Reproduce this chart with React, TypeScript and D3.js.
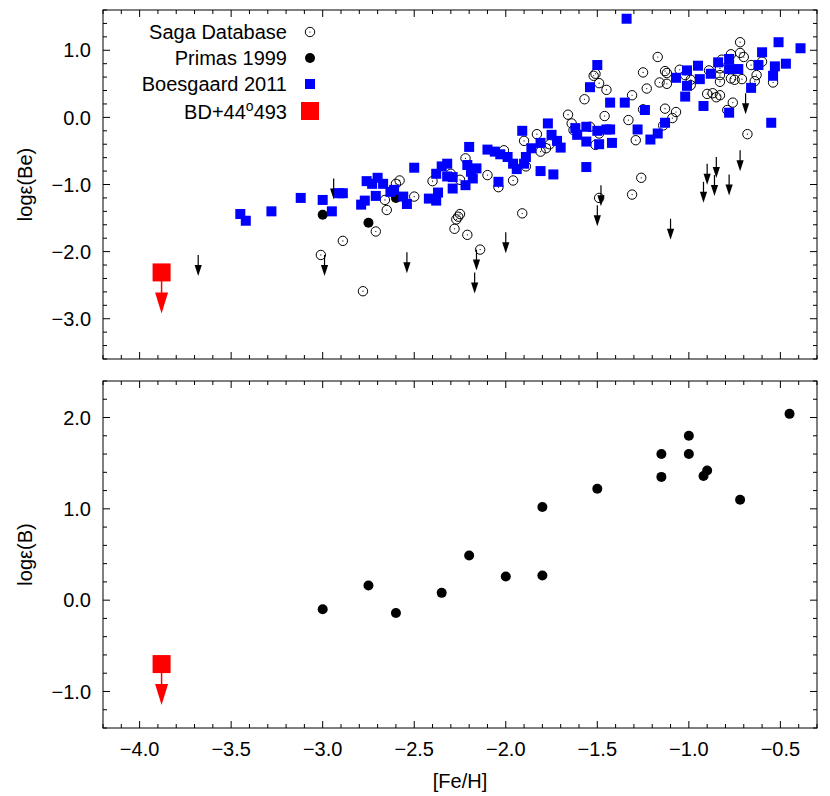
import React from 'react';
import * as d3 from 'd3';

// [Fe/H], logε(Be) — SAGA database (open circles)
const sagaBe: [number, number][] = [
  [-2.58, -0.94], [-2.60, -0.99], [-2.66, -1.23], [-2.65, -1.38], [-2.50, -1.18], [-2.40, -0.95],
  [-2.30, -0.84], [-2.25, -0.93], [-2.22, -0.61], [-2.10, -0.86], [-2.04, -1.04], [-2.89, -1.84],
  [-2.71, -1.70], [-3.01, -2.05], [-2.78, -2.59], [-2.25, -1.44], [-2.26, -1.48], [-2.27, -1.52],
  [-2.28, -1.66], [-2.21, -1.75], [-2.14, -1.97], [-1.96, -0.94], [-1.89, -0.73], [-1.90, -0.35],
  [-1.83, -0.25], [-1.81, -0.51], [-1.78, -0.46], [-1.76, -0.40], [-2.01, -0.49], [-1.66, 0.04],
  [-1.64, -0.09], [-1.63, -0.19], [-1.57, 0.27], [-1.54, -0.14], [-1.51, -0.41], [-1.46, 0.02],
  [-1.45, 0.41], [-1.33, -0.04], [-1.31, 0.33], [-1.29, -0.34], [-1.26, -0.90], [-1.31, -1.15],
  [-1.91, -1.43], [-1.49, -1.20], [-0.72, 1.12], [-1.17, 0.90], [-1.25, 0.67], [-1.52, 0.62],
  [-1.51, 0.65], [-1.49, 0.51], [-1.23, 0.43], [-1.16, 0.52], [-1.13, 0.69], [-1.12, 0.66],
  [-1.12, 0.50], [-1.05, 0.71], [-1.02, 0.63], [-0.99, 0.56], [-0.99, 0.48], [-0.89, 0.70],
  [-0.90, 0.35], [-0.87, 0.36], [-0.85, 0.30], [-0.83, 0.33], [-0.83, 0.53], [-0.83, 0.63],
  [-0.83, 0.73], [-0.82, 0.86], [-0.77, 0.94], [-0.72, 0.96], [-0.70, 0.90], [-0.77, 0.58],
  [-0.75, 0.56], [-0.71, 0.57], [-0.66, 0.78], [-0.63, 0.63], [-0.64, 0.54], [-0.60, 0.83],
  [-0.54, 0.52], [-0.76, 0.22], [-0.79, 0.11], [-0.68, -0.25], [-1.25, 0.12], [-1.13, 0.13],
  [-1.07, 0.08], [-1.09, -0.01], [-1.14, -0.12], [-1.49, -0.24],
];

// SAGA upper limits (arrows hang from the value)
const sagaBeLimits: [number, number][] = [
  [-3.68, -2.05], [-2.94, -0.91], [-2.99, -2.05], [-2.54, -2.01], [-2.16, -1.97], [-2.17, -2.31],
  [-2.00, -1.71], [-1.48, -1.01], [-1.50, -1.31], [-1.10, -1.51], [-0.92, -0.96], [-0.90, -0.69],
  [-0.86, -0.86], [-0.85, -0.59], [-0.78, -0.85], [-0.72, -0.49], [-0.69, 0.36],
];

const primasBe: [number, number][] = [[-3.00, -1.45], [-2.75, -1.57], [-2.60, -1.20]];

const boesgaardBe: [number, number][] = [
  [-3.45, -1.44], [-3.42, -1.54], [-3.28, -1.40], [-3.12, -1.20], [-3.00, -1.23], [-2.95, -1.40],
  [-2.91, -1.13], [-2.89, -1.13], [-2.79, -1.30], [-2.77, -1.24], [-2.76, -0.95], [-2.71, -1.17],
  [-2.73, -0.99], [-2.70, -0.90], [-2.67, -0.99], [-2.63, -1.11], [-2.61, -1.08], [-2.56, -1.18],
  [-2.54, -1.29], [-2.50, -0.75], [-2.42, -1.21], [-2.38, -1.24], [-2.37, -1.12], [-2.38, -0.84],
  [-2.35, -0.73], [-2.32, -0.69], [-2.32, -0.88], [-2.29, -1.06], [-2.29, -0.89], [-2.22, -1.01],
  [-2.21, -0.71], [-2.19, -0.81], [-2.18, -0.91], [-2.16, -0.76], [-2.20, -0.44], [-2.10, -0.48],
  [-2.06, -0.51], [-2.04, -0.96], [-2.03, -0.55], [-1.99, -0.59], [-1.96, -0.69], [-1.94, -0.77],
  [-1.89, -0.59], [-1.90, -0.69], [-1.86, -0.46], [-1.81, -0.38], [-1.91, -0.20], [-1.77, -0.09],
  [-1.75, -0.26], [-1.72, -0.35], [-1.70, -0.45], [-1.81, -0.80], [-1.74, -0.85], [-1.62, -0.16],
  [-1.61, -0.26], [-1.56, -0.14], [-1.56, -0.36], [-1.50, -0.20], [-1.49, -0.40], [-1.45, -0.18],
  [-1.43, -0.18], [-1.42, -0.38], [-1.56, -0.74], [-1.43, 0.22], [-1.35, 0.22], [-1.28, -0.18],
  [-1.21, -0.33], [-1.24, 0.11], [-1.34, 1.47], [-1.50, 0.78], [-1.54, 0.45], [-1.17, -0.24],
  [-1.13, -0.08], [-1.07, 0.59], [-1.01, 0.70], [-1.01, 0.47], [-1.02, 0.31], [-0.95, 0.77],
  [-0.94, 0.57], [-0.88, 0.65], [-0.92, 0.17], [-0.84, 0.82], [-0.78, 0.87], [-0.78, 0.72],
  [-0.73, 0.72], [-0.78, 0.07], [-0.66, 0.44], [-0.62, 0.78], [-0.60, 0.97], [-0.54, 0.62],
  [-0.53, 0.76], [-0.51, 1.12], [-0.47, 0.80], [-0.39, 1.03], [-0.55, -0.08],
];

// BD+44 493 upper limits
const bdBe: [number, number] = [-3.88, -2.31];
const bdB: [number, number] = [-3.88, -0.70];

// [Fe/H], logε(B) — Primas 1999
const primasB: [number, number][] = [
  [-3.00, -0.10], [-2.75, 0.16], [-2.60, -0.14], [-2.35, 0.08], [-2.20, 0.49], [-2.00, 0.26],
  [-1.80, 0.27], [-1.80, 1.02], [-1.50, 1.22], [-1.15, 1.60], [-1.15, 1.35], [-1.00, 1.80],
  [-1.00, 1.60], [-0.92, 1.36], [-0.90, 1.42], [-0.72, 1.10], [-0.45, 2.04],
];

const xTicks = [-4.0, -3.5, -3.0, -2.5, -2.0, -1.5, -1.0, -0.5];
const beTicks = [1.0, 0.0, -1.0, -2.0, -3.0];
const bTicks = [2.0, 1.0, 0.0, -1.0];

const legendItems = ['Saga Database', 'Primas 1999', 'Boesgaard 2011'];

const W = 830;
const H = 796;
const left = 103;
const right = 817;
const font = '"Liberation Sans", Arial, Helvetica, sans-serif';
const fmt = d3.format('.1f');

const x = d3.scaleLinear().domain([-4.2, -0.3]).range([left, right]);
const yBe = d3.scaleLinear().domain([-3.6, 1.6]).range([359, 10]);
const yB = d3.scaleLinear().domain([-1.4, 2.4]).range([728, 381]);

const Frame = ({ y, majors }: { y: d3.ScaleLinear<number, number>; majors: number[] }) => {
  const [y0, y1] = y.domain();
  const top = y.range()[1];
  const bottom = y.range()[0];
  const xMinor = d3.range(-4.2, -0.29, 0.1).map(v => +v.toFixed(1));
  const yMinor = d3.range(Math.ceil(y0 * 5) / 5, y1 + 0.001, 0.2).map(v => +v.toFixed(1));
  const isMajorX = (v: number) => Math.abs(v * 2 - Math.round(v * 2)) < 1e-6;
  const isMajorY = (v: number) => Math.abs(v - Math.round(v)) < 1e-6;
  return (
    <g stroke="#000" strokeWidth={1} fill="none">
      <rect x={left} y={top} width={right - left} height={bottom - top} />
      {xMinor.map(v => {
        const len = isMajorX(v) ? 7 : 4;
        const px = x(v);
        return (
          <g key={'x' + v}>
            <line x1={px} x2={px} y1={bottom} y2={bottom - len} />
            <line x1={px} x2={px} y1={top} y2={top + len} />
          </g>
        );
      })}
      {yMinor.map(v => {
        const len = isMajorY(v) ? 7 : 4;
        const py = y(v);
        return (
          <g key={'y' + v}>
            <line x1={left} x2={left + len} y1={py} y2={py} />
            <line x1={right} x2={right - len} y1={py} y2={py} />
          </g>
        );
      })}
      <g stroke="none" fill="#000" fontFamily={font} fontSize={20} textAnchor="end">
        {majors.map(v => (
          <text key={v} x={91} y={y(v)} dy="0.36em">{fmt(v)}</text>
        ))}
      </g>
    </g>
  );
};

const OpenCircle = ({ cx, cy }: { cx: number; cy: number }) => (
  <g>
    <circle cx={cx} cy={cy} r={4.7} fill="none" stroke="#000" strokeWidth={1} />
    <circle cx={cx} cy={cy} r={0.6} fill="#000" />
  </g>
);

const LimitArrow = ({ cx, cy }: { cx: number; cy: number }) => (
  <g>
    <line x1={cx} x2={cx} y1={cy} y2={cy + 12} stroke="#000" strokeWidth={1.2} />
    <path d={`M${cx - 3.6},${cy + 10}L${cx + 3.6},${cy + 10}L${cx},${cy + 21}Z`} fill="#000" />
  </g>
);

const BdMark = ({ cx, cy, size = 18 }: { cx: number; cy: number; size?: number }) => (
  <g>
    <line x1={cx} x2={cx} y1={cy} y2={cy + 22} stroke="#ff0000" strokeWidth={1.5} />
    <path d={`M${cx - 6.5},${cy + 20}L${cx + 6.5},${cy + 20}L${cx},${cy + 41}Z`} fill="#ff0000" />
    <rect x={cx - size / 2} y={cy - size / 2} width={size} height={size} fill="#ff0000" />
  </g>
);

export default function App() {
  const legendX = 310;
  const legendY = [32, 58, 84, 111];
  return (
    <svg width={W} height={H} style={{ position: 'absolute', left: 0, top: 0, background: '#fff' }}>
      <rect width={W} height={H} fill="#fff" />

      {/* top panel: Be */}
      <g>
        {sagaBe.map((d, i) => <OpenCircle key={'s' + i} cx={x(d[0])} cy={yBe(d[1])} />)}
        {sagaBeLimits.map((d, i) => <LimitArrow key={'l' + i} cx={x(d[0])} cy={yBe(d[1])} />)}
        {primasBe.map((d, i) => <circle key={'p' + i} cx={x(d[0])} cy={yBe(d[1])} r={5} fill="#000" />)}
        {boesgaardBe.map((d, i) => (
          <rect key={'b' + i} x={x(d[0]) - 5} y={yBe(d[1]) - 5} width={10} height={10} fill="#0000ff" />
        ))}
        <BdMark cx={x(bdBe[0])} cy={yBe(bdBe[1])} />
        <Frame y={yBe} majors={beTicks} />
      </g>

      {/* legend */}
      <g fontFamily={font} fontSize={20} textAnchor="end" fill="#000">
        {legendItems.map((t, i) => (
          <text key={t} x={287} y={legendY[i] + 7}>{t}</text>
        ))}
        <text x={287} y={legendY[3] + 8}>
          BD+44<tspan fontSize={14} dy={-8.5}>o</tspan><tspan dy={8.5}>493</tspan>
        </text>
      </g>
      <OpenCircle cx={legendX} cy={legendY[0]} />
      <circle cx={legendX} cy={legendY[1]} r={5} fill="#000" />
      <rect x={legendX - 5} y={legendY[2] - 5} width={10} height={10} fill="#0000ff" />
      <rect x={legendX - 9} y={legendY[3] - 9} width={18} height={18} fill="#ff0000" />

      {/* bottom panel: B */}
      <g>
        {primasB.map((d, i) => <circle key={'q' + i} cx={x(d[0])} cy={yB(d[1])} r={5} fill="#000" />)}
        <BdMark cx={x(bdB[0])} cy={yB(bdB[1])} />
        <Frame y={yB} majors={bTicks} />
      </g>

      {/* x axis labels */}
      <g fontFamily={font} fontSize={20} textAnchor="middle" fill="#000">
        {xTicks.map(v => (
          <text key={v} x={x(v)} y={756}>{fmt(v)}</text>
        ))}
        <text x={(left + right) / 2} y={788}>[Fe/H]</text>
      </g>

      {/* y titles */}
      <g fontFamily={font} fontSize={20} textAnchor="middle" fill="#000">
        <text transform={`translate(32,${(yBe.range()[0] + yBe.range()[1]) / 2}) rotate(-90)`}>logε(Be)</text>
        <text transform={`translate(32,${(yB.range()[0] + yB.range()[1]) / 2}) rotate(-90)`}>logε(B)</text>
      </g>
    </svg>
  );
}
